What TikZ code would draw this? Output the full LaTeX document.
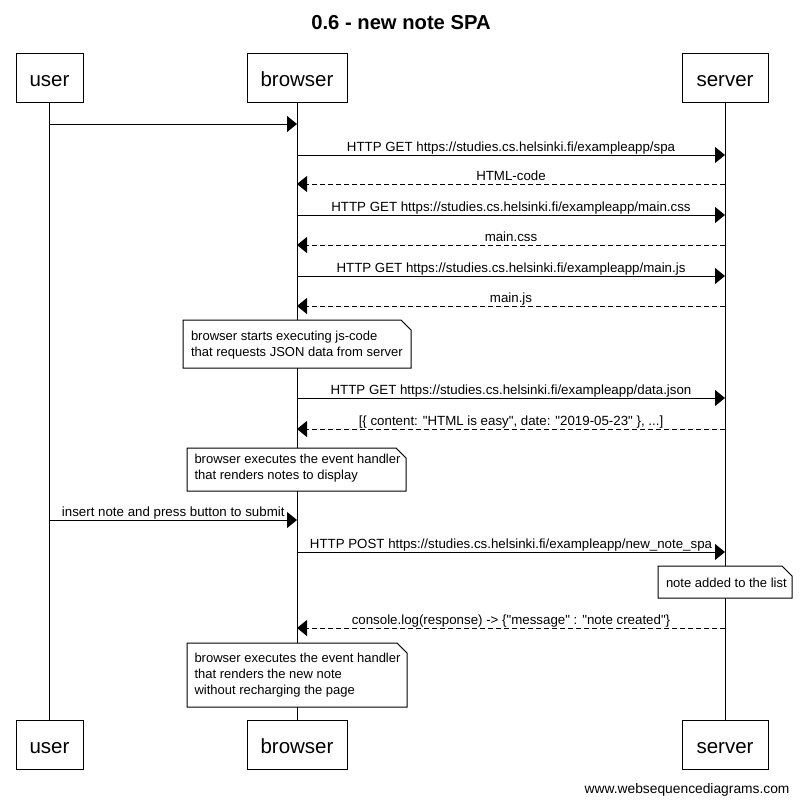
\documentclass[tikz,border=0pt]{standalone}
\usepackage{fontspec}
\setmainfont{Liberation Sans}[Ligatures=TeXOff]
\usetikzlibrary{arrows.meta}
\newcommand\qq{\symbol{34}}
\begin{document}
\begin{tikzpicture}[x=1pt,y=-1pt,line width=1pt,
  part/.style={draw,fill=white,minimum height=49pt,inner sep=0pt,text height=21pt,text depth=4pt,font=\fontsize{20.5}{24}\selectfont},
  sync/.style={-{Triangle[length=10pt,width=16pt]}},
  reply/.style={sync,dash pattern=on 5pt off 3pt},
  lbl/.style={anchor=base,inner sep=0pt,yshift=4pt,font=\fontsize{13.3}{16}\selectfont},
  notetext/.style={anchor=west,inner sep=0pt,align=left,font=\fontsize{13}{16}\selectfont},
  notebox/.style={draw,fill=white}]
\useasboundingbox (0,0) rectangle (802,803);
\fill[white] (0,0) rectangle (802,803);

\node[anchor=base,font=\bfseries\fontsize{20.2}{24}\selectfont] (title) at (401,29) {0.6 - new note SPA};

% participants
\node[part,minimum width=67pt] (ut) at (49.5,77.5) {user};
\node[part,minimum width=100pt] (bt) at (297,77.5) {browser};
\node[part,minimum width=86pt] (st) at (725,77.5) {server};
\node[part,minimum width=67pt] (ub) at (49.5,744.5) {user};
\node[part,minimum width=100pt] (bb) at (297,744.5) {browser};
\node[part,minimum width=86pt] (sb) at (725,744.5) {server};

% lifelines
\draw (ut) -- (ub);
\draw (bt) -- (bb);
\draw (st) -- (sb);

% message anchor points
\foreach \n/\y in {1/124,10/520}{
  \coordinate (u\n) at (49.5,\y);
  \coordinate (b\n) at (297,\y);
}
\foreach \n/\y in {2/155,3/184,4/215,5/245,6/276,7/306,8/398,9/429,11/552,12/628}{
  \coordinate (b\n) at (297,\y);
  \coordinate (s\n) at (725,\y);
}

\draw[sync] (u1) -- (b1);
\draw[sync] (b2) -- (s2) node[lbl,midway] {HTTP GET https://studies.cs.helsinki.fi/exampleapp/spa};
\draw[reply] (s3) -- (b3) node[lbl,midway] {HTML-code};
\draw[sync] (b4) -- (s4) node[lbl,midway] {HTTP GET https://studies.cs.helsinki.fi/exampleapp/main.css};
\draw[reply] (s5) -- (b5) node[lbl,midway] {main.css};
\draw[sync] (b6) -- (s6) node[lbl,midway] {HTTP GET https://studies.cs.helsinki.fi/exampleapp/main.js};
\draw[reply] (s7) -- (b7) node[lbl,midway] {main.js};

% note 1
\draw[notebox] (183,320) -- (401,320) -- (411,330) -- (411,368) -- (183,368) -- cycle;
\draw[line width=0.6pt] (401,320) -- (411,330);
\node[notetext] (n1) at (190.5,345) {browser starts executing js-code\\that requests JSON data from server};

\draw[sync] (b8) -- (s8) node[lbl,midway] {HTTP GET https://studies.cs.helsinki.fi/exampleapp/data.json};
\draw[reply] (s9) -- (b9) node[lbl,midway] {[\{ content: \qq HTML is easy\qq, date: \qq 2019-05-23\qq\ \}, ...]};

% note 2
\draw[notebox] (187,448) -- (396,448) -- (406,458) -- (406,491) -- (187,491) -- cycle;
\draw[line width=0.6pt] (396,448) -- (406,458);
\node[notetext] (n2) at (194,468) {browser executes the event handler\\that renders notes to display};

\draw[sync] (u10) -- (b10) node[lbl,midway] {insert note and press button to submit};
\draw[sync] (b11) -- (s11) node[lbl,midway] {HTTP POST https://studies.cs.helsinki.fi/exampleapp/new\_note\_spa};

% note 3
\draw[notebox] (658,566) -- (782,566) -- (792,576) -- (792,598) -- (658,598) -- cycle;
\draw[line width=0.6pt] (782,566) -- (792,576);
\node[notetext] (n3) at (665.5,583) {note added to the list};

\draw[reply] (s12) -- (b12) node[lbl,midway] {console.log(response) -> \{\qq message\qq\ : \qq note created\qq\}};

% note 4
\draw[notebox] (187,643) -- (397,643) -- (407,653) -- (407,707) -- (187,707) -- cycle;
\draw[line width=0.6pt] (397,643) -- (407,653);
\node[notetext] (n4) at (194,675.5) {browser executes the event handler\\that renders the new note\\without recharging the page};

\node[anchor=base east,inner sep=0pt,font=\fontsize{13.8}{16}\selectfont] (footer) at (790,793) {www.websequencediagrams.com};
\end{tikzpicture}
\end{document}
